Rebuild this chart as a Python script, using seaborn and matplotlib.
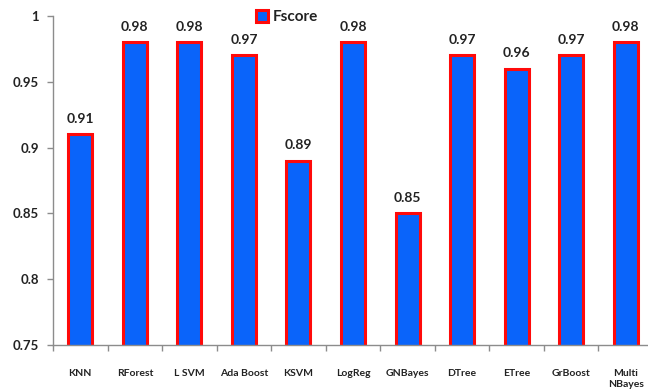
import matplotlib
matplotlib.use("Agg")
import matplotlib.pyplot as plt
import seaborn as sns
import pandas as pd
import numpy as np
from matplotlib.patches import Patch

models = ["KNN", "RForest", "L SVM", "Ada Boost", "KSVM", "LogReg",
          "GNBayes", "DTree", "ETree", "GrBoost", "Multi\nNBayes"]
fscore = [0.91, 0.98, 0.98, 0.97, 0.89, 0.98, 0.85, 0.97, 0.96, 0.97, 0.98]
yticks = [0.75, 0.8, 0.85, 0.9, 0.95, 1.0]
ytick_labels = ["0.75", "0.8", "0.85", "0.9", "0.95", "1"]

sns.set_style("white")
plt.rcParams["font.family"] = ["Lato", "DejaVu Sans"]

df = pd.DataFrame({"model": models, "Fscore": fscore})

fig = plt.figure(figsize=(6.48, 3.9), dpi=100)
ax = fig.add_axes([53 / 648, 45 / 390, 600 / 648, 329 / 390])

fill = "#0a64fa"
edge = "#ff0a0a"
sns.barplot(data=df, x="model", y="Fscore", color=fill, saturation=1,
            width=0.44, edgecolor=edge, linewidth=2.2, ax=ax)

ax.set_ylim(0.75, 1.0)
ax.set_xlim(-0.5, len(models) - 0.5)
ax.set_xlabel("")
ax.set_ylabel("")

# value labels above bars
for i, v in enumerate(fscore):
    ax.annotate(f"{v:.2f}", (i, v), xytext=(0, 7), textcoords="offset points",
                ha="center", va="bottom", fontsize=10, fontweight="bold",
                color="#222222")

# axes styling
for side in ["top", "right"]:
    ax.spines[side].set_visible(False)
for side in ["left", "bottom"]:
    ax.spines[side].set_color("#8c8c8c")
    ax.spines[side].set_linewidth(1.0)

ax.set_yticks(yticks)
ax.set_yticklabels(ytick_labels)
ax.tick_params(axis="y", direction="out", length=4, width=1, color="#8c8c8c",
               labelsize=9.5, pad=6, left=True)
for t in ax.get_yticklabels():
    t.set_fontweight("bold")
    t.set_color("#222222")

ax.set_xticks(range(len(models)))
ax.set_xticklabels(models, va="top", linespacing=1.3)
ax.tick_params(axis="x", which="major", length=0, labelsize=7.5, pad=17)
for t in ax.get_xticklabels():
    t.set_fontweight("bold")
    t.set_color("#222222")
ax.set_xticks(np.arange(-0.5, len(models), 1.0), minor=True)
ax.tick_params(axis="x", which="minor", direction="out", length=4, width=1,
               color="#8c8c8c", bottom=True)

handle = Patch(facecolor=fill, edgecolor=edge, linewidth=2.2)
leg = ax.legend([handle], ["Fscore"], loc="upper left",
                bbox_to_anchor=(0.315, 1.06), frameon=False,
                handlelength=0.8, handleheight=0.8, handletextpad=0.3,
                prop={"weight": "bold", "size": 11})
for t in leg.get_texts():
    t.set_color("#222222")

fig.savefig("out.png", dpi=100)
